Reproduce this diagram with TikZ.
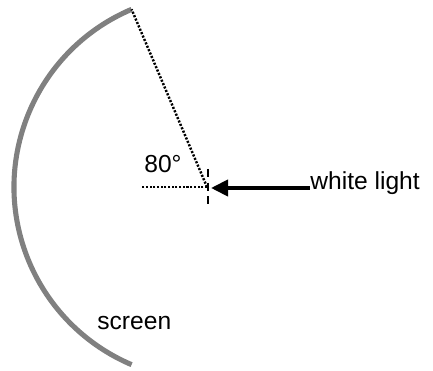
\documentclass[tikz,border=0pt]{standalone}
\usepackage{fontspec}
\setmainfont{Liberation Sans}
\usepackage{xcolor}
\definecolor{screenGray}{HTML}{808080}
\usepackage{tikz}
\usetikzlibrary{arrows.meta}

\begin{document}
\begin{tikzpicture}[>={Triangle[length=0.34cm,width=0.32cm]},
  every node/.style={font=\fontsize{14}{16}\selectfont, inner sep=0pt},
  dotline/.style={line width=1.4pt, dash pattern=on 1.2pt off 0.9pt}]
  \useasboundingbox (0,0) rectangle (8.66,7.42);
  % centre of the screen
  \coordinate (centre) at (4.14,3.68);
  \coordinate (tip) at (4.22,3.66);
  \coordinate (left) at (2.84,3.68);
  % curved screen
  \draw[screenGray, line width=2.9pt] (centre) ++(113:3.86) coordinate (top)
    arc[start angle=113, end angle=247, radius=3.86];
  % dotted lines
  \draw[dotline] (centre) -- (top);
  \draw[dotline] (centre) -- (left);
  % vertical tick
  \draw[line width=1.5pt, dash pattern=on 4.6pt off 3.2pt] (4.16,4.04) -- (4.16,3.32);
  % labels
  \node[anchor=base west] (angle) at (2.88,3.96) {80°};
  \node[anchor=base west] (screen) at (1.94,0.82) {screen};
  \node[anchor=base west] (light) at (6.2,3.62) {white light};
  % incoming light
  \draw[->, line width=2.2pt] (light.west |- tip) -- (tip);
\end{tikzpicture}
\end{document}
